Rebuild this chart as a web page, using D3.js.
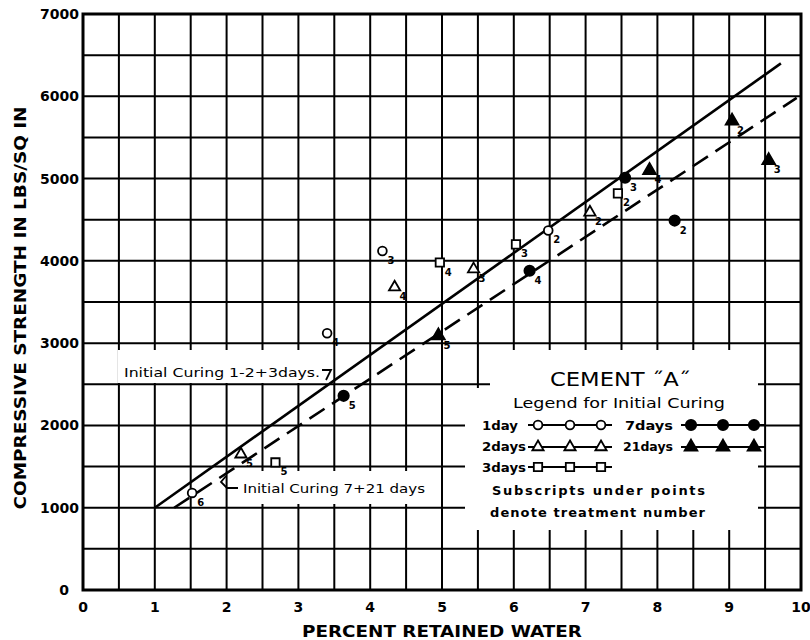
<!DOCTYPE html>
<html>
<head>
<meta charset="utf-8">
<script src="https://cdn.jsdelivr.net/npm/d3@7/dist/d3.min.js"></script>
<style>
  html, body { margin: 0; padding: 0; background: #fff; }
  svg { display: block; }
  text { font-family: "DejaVu Sans", sans-serif; fill: #000; }
</style>
</head>
<body>
<svg id="chart" width="810" height="640"></svg>
<script>
// Axis ticks
const xTicks = [0, 1, 2, 3, 4, 5, 6, 7, 8, 9, 10];
const yTicks = [0, 1000, 2000, 3000, 4000, 5000, 6000, 7000];

// Percent retained water (x) and compressive strength (y), by initial curing period
const water1Day = [1.52, 3.40, 4.17, 6.48];
const strength1Day = [1180, 3120, 4120, 4370];
const treatment1Day = [6, 4, 3, 2];

const water2Days = [2.20, 4.34, 5.44, 7.06];
const strength2Days = [1650, 3680, 3900, 4590];
const treatment2Days = [5, 4, 3, 2];

const water3Days = [2.68, 4.97, 6.03, 7.45];
const strength3Days = [1550, 3980, 4200, 4820];
const treatment3Days = [5, 4, 3, 2];

const water7Days = [3.63, 6.22, 7.55, 8.24];
const strength7Days = [2360, 3880, 5010, 4490];
const treatment7Days = [5, 4, 3, 2];

const water21Days = [4.95, 7.89, 9.04, 9.55];
const strength21Days = [3090, 5100, 5700, 5220];
const treatment21Days = [5, 4, 2, 3];

// Fitted lines: endpoints [water, strength]
const lineCuring123 = [[1.0, 1000], [9.72, 6400]];
const lineCuring721 = [[1.27, 1000], [9.94, 5980]];

const legendEntries = ["1day", "2days", "3days", "7days", "21days"];

const svg = d3.select("#chart");
const x = d3.scaleLinear().domain([0, 10]).range([83, 801]);
const y = d3.scaleLinear().domain([0, 7000]).range([590, 14]);

// Grid every 0.5 % and every 500 lbs/sq in
const xGrid = d3.range(0.5, 10, 0.5);
const yGrid = d3.range(500, 7000, 500);
const grid = svg.append("g").attr("stroke", "#000").attr("stroke-width", 2);
grid.selectAll("line.v").data(xGrid).join("line")
  .attr("x1", d => x(d)).attr("x2", d => x(d))
  .attr("y1", y(7000)).attr("y2", y(0));
grid.selectAll("line.h").data(yGrid).join("line")
  .attr("y1", d => y(d)).attr("y2", d => y(d))
  .attr("x1", x(0)).attr("x2", x(10));

// White patches behind the notes and legend
const patches = [
  [118, 350, 214, 33],
  [236, 471, 196, 33],
  [490, 350, 268, 38],
  [465, 388, 293, 142]
];
svg.append("g").selectAll("rect").data(patches).join("rect")
  .attr("x", d => d[0]).attr("y", d => d[1])
  .attr("width", d => d[2]).attr("height", d => d[3])
  .attr("fill", "#fff");

// Frame
svg.append("rect")
  .attr("x", x(0)).attr("y", y(7000))
  .attr("width", x(10) - x(0)).attr("height", y(0) - y(7000))
  .attr("fill", "none").attr("stroke", "#000").attr("stroke-width", 3);

// Tick labels
svg.append("g").selectAll("text").data(yTicks).join("text")
  .attr("x", d => d === 0 ? 69 : 79)
  .attr("y", d => y(d) + 5)
  .attr("text-anchor", "end")
  .attr("font-size", 14).attr("font-weight", "bold")
  .text(d => d);
svg.append("g").selectAll("text").data(xTicks).join("text")
  .attr("x", d => x(d))
  .attr("y", 612)
  .attr("text-anchor", "middle")
  .attr("font-size", 14).attr("font-weight", "bold")
  .text(d => d);

// Axis titles
svg.append("text")
  .attr("transform", "translate(26,308) rotate(-90)")
  .attr("text-anchor", "middle")
  .attr("font-size", 16).attr("font-weight", "bold")
  .attr("textLength", 403).attr("lengthAdjust", "spacingAndGlyphs")
  .text("COMPRESSIVE  STRENGTH  IN  LBS/SQ IN");
svg.append("text")
  .attr("x", 442).attr("y", 637)
  .attr("text-anchor", "middle")
  .attr("font-size", 15).attr("font-weight", "bold")
  .attr("textLength", 280).attr("lengthAdjust", "spacingAndGlyphs")
  .text("PERCENT  RETAINED  WATER");

// Fitted lines
const lineGen = d3.line().x(d => x(d[0])).y(d => y(d[1]));
svg.append("path").attr("d", lineGen(lineCuring123))
  .attr("fill", "none").attr("stroke", "#000").attr("stroke-width", 2.6);
svg.append("path").attr("d", lineGen(lineCuring721))
  .attr("fill", "none").attr("stroke", "#000").attr("stroke-width", 2.6)
  .attr("stroke-dasharray", "18 9");

// Line notes
svg.append("text").attr("x", 124).attr("y", 377)
  .attr("font-size", 13)
  .attr("textLength", 196).attr("lengthAdjust", "spacingAndGlyphs")
  .text("Initial Curing 1-2+3days.");
svg.append("path").attr("d", "M322,370 L331,370 L326,380")
  .attr("fill", "none").attr("stroke", "#000").attr("stroke-width", 1.8);
svg.append("text").attr("x", 243).attr("y", 493)
  .attr("font-size", 13)
  .attr("textLength", 182).attr("lengthAdjust", "spacingAndGlyphs")
  .text("Initial Curing 7+21 days");
svg.append("path").attr("d", "M226,476 L221,482 L227,488 L238,488")
  .attr("fill", "none").attr("stroke", "#000").attr("stroke-width", 1.8);

// Marker shapes
const symbols = {
  "1day": { type: d3.symbolCircle, size: 60, fill: "#fff" },
  "2days": { type: d3.symbolTriangle, size: 55, fill: "#fff" },
  "3days": { type: d3.symbolSquare, size: 70, fill: "#fff" },
  "7days": { type: d3.symbolCircle, size: 85, fill: "#000" },
  "21days": { type: d3.symbolTriangle, size: 70, fill: "#000" }
};

const groups = [
  ["1day", water1Day, strength1Day, treatment1Day],
  ["2days", water2Days, strength2Days, treatment2Days],
  ["3days", water3Days, strength3Days, treatment3Days],
  ["7days", water7Days, strength7Days, treatment7Days],
  ["21days", water21Days, strength21Days, treatment21Days]
];

groups.forEach(([key, xs, ys, ts]) => {
  const s = symbols[key];
  const pts = xs.map((v, i) => ({ w: v, s: ys[i], t: ts[i] }));
  const g = svg.append("g");
  g.selectAll("path").data(pts).join("path")
    .attr("transform", d => `translate(${x(d.w)},${y(d.s)})`)
    .attr("d", d3.symbol().type(s.type).size(s.size))
    .attr("fill", s.fill).attr("stroke", "#000").attr("stroke-width", 1.8);
  g.selectAll("text").data(pts).join("text")
    .attr("x", d => x(d.w) + 5).attr("y", d => y(d.s) + 13)
    .attr("font-size", 10).attr("font-weight", "bold")
    .text(d => d.t);
});

// Legend
svg.append("text").attr("x", 620).attr("y", 386)
  .attr("text-anchor", "middle").attr("font-size", 20)
  .attr("textLength", 140).attr("lengthAdjust", "spacingAndGlyphs")
  .text("CEMENT \u02DDA\u02DD");
svg.append("text").attr("x", 619).attr("y", 408)
  .attr("text-anchor", "middle").attr("font-size", 14)
  .attr("textLength", 212).attr("lengthAdjust", "spacingAndGlyphs")
  .text("Legend for Initial Curing");

const legendPos = {
  "1day": { tx: 482, ty: 430, lx: 528, my: 425, tw: 36 },
  "2days": { tx: 482, ty: 451, lx: 528, my: 447, tw: 44 },
  "3days": { tx: 482, ty: 472, lx: 528, my: 467, tw: 44 },
  "7days": { tx: 625, ty: 430, lx: 681, my: 425, tw: 48 },
  "21days": { tx: 623, ty: 451, lx: 681, my: 447, tw: 50 }
};
const lg = svg.append("g");
legendEntries.forEach(key => {
  const p = legendPos[key];
  const s = symbols[key];
  lg.append("text").attr("x", p.tx).attr("y", p.ty)
    .attr("font-size", 13).attr("font-weight", "bold")
    .attr("textLength", p.tw).attr("lengthAdjust", "spacingAndGlyphs")
    .text(key === "1day" ? "1day" : key.replace("days", "days"));
  lg.append("line").attr("x1", p.lx).attr("x2", p.lx + 84)
    .attr("y1", p.my).attr("y2", p.my)
    .attr("stroke", "#000").attr("stroke-width", 1.8);
  [10, 42, 73].forEach(off => {
    lg.append("path")
      .attr("transform", `translate(${p.lx + off},${p.my})`)
      .attr("d", d3.symbol().type(s.type).size(s.size))
      .attr("fill", s.fill).attr("stroke", "#000").attr("stroke-width", 1.8);
  });
});
svg.append("text").attr("x", 492).attr("y", 495)
  .attr("font-size", 13).attr("font-weight", "bold")
  .attr("textLength", 213).attr("lengthAdjust", "spacing")
  .text("Subscripts  under  points");
svg.append("text").attr("x", 490).attr("y", 517)
  .attr("font-size", 13).attr("font-weight", "bold")
  .attr("textLength", 215).attr("lengthAdjust", "spacing")
  .text("denote  treatment  number");
</script>
</body>
</html>
